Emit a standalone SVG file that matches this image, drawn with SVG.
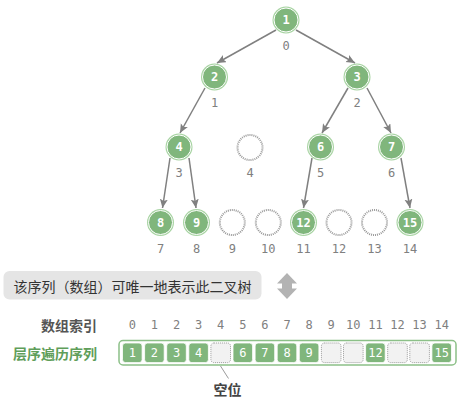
<svg xmlns="http://www.w3.org/2000/svg" width="460" height="400" viewBox="0 0 460 400">
<defs>
<style>
.edge{stroke:#808080;stroke-width:1.5;fill:none;marker-end:url(#ah)}
.nout{fill:#a8d4a3}
.nin{fill:#80b67c;stroke:#fff;stroke-width:1}
.empty{fill:none;stroke:#999;stroke-width:2;stroke-dasharray:1 1}
.nt{font-family:"DejaVu Sans Mono",monospace;font-size:12px;font-weight:bold;fill:#fff;text-anchor:middle;dominant-baseline:central}
.idx{font-family:"DejaVu Sans Mono",monospace;font-size:12px;fill:#808080;text-anchor:middle;dominant-baseline:central}
.cell{fill:#80b67c;stroke:#fff;stroke-width:0.8}
.ecell{fill:#f2f2f2;stroke:#999;stroke-width:1;stroke-dasharray:1 1}
.ct{font-family:"DejaVu Sans Mono",monospace;font-size:12px;fill:#fff;text-anchor:middle;dominant-baseline:central}
.cjk{font-family:"Noto Sans CJK SC",sans-serif;font-size:14px;dominant-baseline:central}
</style>
<marker id="ah" markerUnits="userSpaceOnUse" markerWidth="10" markerHeight="9" refX="9" refY="4" orient="auto">
<path d="M0,0 L9,4 L0,8 L2,4 z" fill="#808080"/>
</marker>
</defs>

<g id="edges">
<line class="edge" x1="276" y1="30" x2="217" y2="63"/>
<line class="edge" x1="296" y1="30" x2="355" y2="63"/>
<line class="edge" x1="205" y1="88" x2="180" y2="133"/>
<line class="edge" x1="348" y1="88" x2="322" y2="133"/>
<line class="edge" x1="367" y1="88" x2="391" y2="133"/>
<line class="edge" x1="170" y1="158" x2="162.5" y2="208"/>
<line class="edge" x1="189" y1="158" x2="196" y2="208"/>
<line class="edge" x1="312" y1="158" x2="303.5" y2="208"/>
<line class="edge" x1="401" y1="158" x2="410" y2="208"/>
</g>

<g id="n1"><circle class="nout" cx="286" cy="20" r="13.5"/><circle class="nin" cx="286" cy="20" r="12"/><text class="nt" x="286" y="20">1</text><text class="idx" x="286" y="46">0</text></g>
<g id="n2"><circle class="nout" cx="214.5" cy="77" r="13.5"/><circle class="nin" cx="214.5" cy="77" r="12"/><text class="nt" x="214.5" y="77">2</text><text class="idx" x="214.5" y="103">1</text></g>
<g id="n3"><circle class="nout" cx="357" cy="77" r="13.5"/><circle class="nin" cx="357" cy="77" r="12"/><text class="nt" x="357" y="77">3</text><text class="idx" x="357" y="103">2</text></g>
<g id="n4"><circle class="nout" cx="179" cy="147" r="13.5"/><circle class="nin" cx="179" cy="147" r="12"/><text class="nt" x="179" y="147">4</text><text class="idx" x="179" y="173">3</text></g>
<g id="e4"><circle class="empty" cx="250" cy="147.5" r="12.5"/><text class="idx" x="250" y="173">4</text></g>
<g id="n6"><circle class="nout" cx="320.5" cy="147" r="13.5"/><circle class="nin" cx="320.5" cy="147" r="12"/><text class="nt" x="320.5" y="147">6</text><text class="idx" x="320.5" y="173">5</text></g>
<g id="n7"><circle class="nout" cx="391.5" cy="147" r="13.5"/><circle class="nin" cx="391.5" cy="147" r="12"/><text class="nt" x="391.5" y="147">7</text><text class="idx" x="391.5" y="173">6</text></g>

<g id="n8"><circle class="nout" cx="160.5" cy="222.5" r="13.5"/><circle class="nin" cx="160.5" cy="222.5" r="12"/><text class="nt" x="160.5" y="222.5">8</text><text class="idx" x="160.5" y="249">7</text></g>
<g id="n9"><circle class="nout" cx="196.5" cy="222.5" r="13.5"/><circle class="nin" cx="196.5" cy="222.5" r="12"/><text class="nt" x="196.5" y="222.5">9</text><text class="idx" x="196.5" y="249">8</text></g>
<g id="e9"><circle class="empty" cx="232.3" cy="222.5" r="12.5"/><text class="idx" x="232.3" y="249">9</text></g>
<g id="e10"><circle class="empty" cx="268.3" cy="222.5" r="12.5"/><text class="idx" x="268.3" y="249">10</text></g>
<g id="n12"><circle class="nout" cx="303.5" cy="222.5" r="13.5"/><circle class="nin" cx="303.5" cy="222.5" r="12"/><text class="nt" x="303.5" y="222.5">12</text><text class="idx" x="303.5" y="249">11</text></g>
<g id="e12"><circle class="empty" cx="339" cy="222.5" r="12.5"/><text class="idx" x="339" y="249">12</text></g>
<g id="e13"><circle class="empty" cx="374.5" cy="222.5" r="12.5"/><text class="idx" x="374.5" y="249">13</text></g>
<g id="n15"><circle class="nout" cx="410" cy="222.5" r="13.5"/><circle class="nin" cx="410" cy="222.5" r="12"/><text class="nt" x="410" y="222.5">15</text><text class="idx" x="410" y="249">14</text></g>

<g id="caption">
<rect x="3.5" y="271" width="258" height="28.5" rx="6" fill="#e5e5e5"/>
<text class="cjk" x="132.5" y="285.5" text-anchor="middle" fill="#333">该序列（数组）可唯一地表示此二叉树</text>
</g>
<g id="dblarrow">
<polygon points="287,273 297,283.5 292,283.5 292,288.5 297,288.5 287,299 277,288.5 282,288.5 282,283.5 277,283.5" fill="#b3b3b3"/>
</g>

<g id="labels">
<text class="cjk" x="97" y="325" text-anchor="end" fill="#555" font-weight="bold">数组索引</text>
<text class="cjk" x="97" y="352.5" text-anchor="end" fill="#5f9e5a" font-weight="bold">层序遍历序列</text>
</g>

<g id="indices">
<text class="idx" x="132.3" y="325">0</text>
<text class="idx" x="154.4" y="325">1</text>
<text class="idx" x="176.5" y="325">2</text>
<text class="idx" x="198.6" y="325">3</text>
<text class="idx" x="220.7" y="325">4</text>
<text class="idx" x="242.8" y="325">5</text>
<text class="idx" x="264.9" y="325">6</text>
<text class="idx" x="287" y="325">7</text>
<text class="idx" x="309.1" y="325">8</text>
<text class="idx" x="331.2" y="325">9</text>
<text class="idx" x="353.3" y="325">10</text>
<text class="idx" x="375.4" y="325">11</text>
<text class="idx" x="397.5" y="325">12</text>
<text class="idx" x="419.6" y="325">13</text>
<text class="idx" x="441.7" y="325">14</text>
</g>

<g id="array">
<rect x="119" y="340.5" width="337" height="24.5" rx="4" fill="#fff" stroke="#8cc088" stroke-width="1.5"/>
<rect class="cell" x="122.5" y="343" width="19.6" height="19.6" rx="3"/><text class="ct" x="132.3" y="352.8">1</text>
<rect class="cell" x="144.6" y="343" width="19.6" height="19.6" rx="3"/><text class="ct" x="154.4" y="352.8">2</text>
<rect class="cell" x="166.7" y="343" width="19.6" height="19.6" rx="3"/><text class="ct" x="176.5" y="352.8">3</text>
<rect class="cell" x="188.8" y="343" width="19.6" height="19.6" rx="3"/><text class="ct" x="198.6" y="352.8">4</text>
<rect class="ecell" x="210.9" y="343" width="19.6" height="19.6" rx="3"/>
<rect class="cell" x="233" y="343" width="19.6" height="19.6" rx="3"/><text class="ct" x="242.8" y="352.8">6</text>
<rect class="cell" x="255.1" y="343" width="19.6" height="19.6" rx="3"/><text class="ct" x="264.9" y="352.8">7</text>
<rect class="cell" x="277.2" y="343" width="19.6" height="19.6" rx="3"/><text class="ct" x="287" y="352.8">8</text>
<rect class="cell" x="299.3" y="343" width="19.6" height="19.6" rx="3"/><text class="ct" x="309.1" y="352.8">9</text>
<rect class="ecell" x="321.4" y="343" width="19.6" height="19.6" rx="3"/>
<rect class="ecell" x="343.5" y="343" width="19.6" height="19.6" rx="3"/>
<rect class="cell" x="365.6" y="343" width="19.6" height="19.6" rx="3"/><text class="ct" x="375.4" y="352.8">12</text>
<rect class="ecell" x="387.7" y="343" width="19.6" height="19.6" rx="3"/>
<rect class="ecell" x="409.8" y="343" width="19.6" height="19.6" rx="3"/>
<rect class="cell" x="431.9" y="343" width="19.6" height="19.6" rx="3"/><text class="ct" x="441.7" y="352.8">15</text>
</g>

<g id="empty-label">
<line x1="220.5" y1="366" x2="228.5" y2="378.5" stroke="#808080" stroke-width="0.8"/>
<text class="cjk" x="227.5" y="389" text-anchor="middle" fill="#444" font-weight="bold">空位</text>
</g>
</svg>
